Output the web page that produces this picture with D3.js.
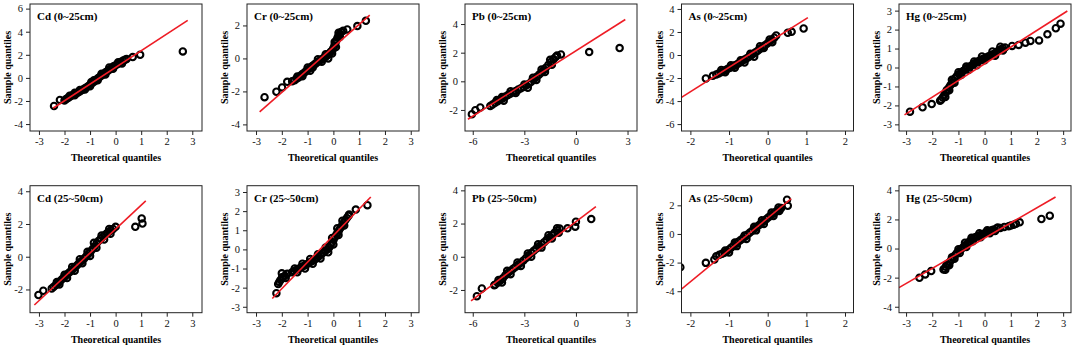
<!DOCTYPE html>
<html>
<head>
<meta charset="utf-8">
<script src="https://cdn.jsdelivr.net/npm/d3@7"></script>
<style>
  body { margin: 0; background: #fff; }
  svg { display: block; }
  text { font-family: "Liberation Serif", "Times New Roman", serif; }
</style>
</head>
<body>
<script>
// titles of the ten panels (top row 0~25cm, bottom row 25~50cm)
var titles = ["Cd (0~25cm)", "Cr (0~25cm)", "Pb (0~25cm)", "As (0~25cm)", "Hg (0~25cm)",
              "Cd (25~50cm)", "Cr (25~50cm)", "Pb (25~50cm)", "As (25~50cm)", "Hg (25~50cm)"];

// [theoretical, sample] quantiles
var cdTop = [[-2.41,-2.43],[-2.18,-1.91],[-2.0,-1.95],[-1.95,-1.85],[-1.9,-1.78],[-1.85,-1.72],[-1.78,-1.62],[-1.72,-1.52],[-1.65,-1.45],[-1.58,-1.38],[-1.5,-1.3],[-1.42,-1.2],[-1.35,-1.1],[-1.28,-1.0],[-1.2,-0.9],[-1.12,-0.78],[-1.05,-0.68],[-0.98,-0.55],[-0.9,-0.42],[-0.82,-0.3],[-0.75,-0.15],[-0.68,0.0],[-0.6,0.12],[-0.52,0.25],[-0.45,0.38],[-0.38,0.5],[-0.3,0.62],[-0.22,0.75],[-0.15,0.88],[-0.08,1.0],[0.0,1.1],[0.08,1.2],[0.15,1.3],[0.22,1.4],[0.3,1.5],[0.37,1.58],[0.43,1.64],[0.67,1.8],[0.96,2.0],[2.63,2.29],
  [-1.8,-1.55],[-1.6,-1.5],[-1.4,-1.05],[-1.2,-1.0],[-1.0,-0.72],[-0.85,-0.2],[-0.7,-0.2],[-0.55,0.35],[-0.4,0.3],[-0.25,0.9],[-0.1,0.8],[0.1,1.35],[0.25,1.25],[-1.6,-1.28],[-0.95,-0.35]];
var crTop = [[-2.67,-2.35],[-2.21,-2.02],[-1.99,-1.76],[-1.79,-1.42],[-1.6,-1.38],[-1.5,-1.32],[-1.42,-1.22],[-1.35,-1.15],[-1.28,-1.05],[-1.2,-0.95],[-1.12,-0.86],[-1.05,-0.76],[-0.98,-0.66],[-0.9,-0.56],[-0.82,-0.46],[-0.75,-0.38],[-0.68,-0.3],[-0.6,-0.2],[-0.52,-0.12],[-0.45,-0.05],[-0.38,0.03],[-0.3,0.1],[-0.23,0.2],[-0.16,0.3],[-0.1,0.4],[-0.04,0.5],[0.0,0.62],[0.04,0.78],[0.08,0.95],[0.12,1.1],[0.16,1.25],[0.2,1.38],[0.25,1.5],[0.3,1.6],[0.38,1.68],[0.54,1.76],[0.93,1.96],[1.26,2.28],
  [-1.4,-1.1],[-1.2,-1.08],[-1.0,-0.55],[-0.8,-0.55],[-0.6,-0.05],[-0.45,-0.2],[-0.3,0.25],[-0.2,0.0],[-0.05,0.3],[0.05,1.0],[0.1,0.7],[0.2,1.55],[0.25,1.3],[-0.9,-0.75]];
var pbTop = [[-6.05,-2.3],[-5.85,-2.02],[-5.56,-1.83],[-4.98,-1.72],[-4.85,-1.62],[-4.7,-1.5],[-4.55,-1.4],[-4.4,-1.28],[-4.25,-1.18],[-4.1,-1.06],[-3.95,-0.95],[-3.82,-0.86],[-3.65,-0.76],[-3.5,-0.67],[-3.35,-0.58],[-3.2,-0.48],[-3.05,-0.4],[-2.9,-0.3],[-2.75,-0.18],[-2.6,-0.03],[-2.45,0.13],[-2.3,0.3],[-2.15,0.46],[-2.0,0.62],[-1.88,0.77],[-1.75,0.95],[-1.6,1.15],[-1.45,1.35],[-1.3,1.55],[-1.18,1.7],[-1.1,1.81],[-0.87,1.88],[0.77,2.04],[2.54,2.32],
  [-4.6,-1.3],[-4.2,-1.35],[-3.8,-0.7],[-3.5,-0.82],[-3.0,-0.22],[-2.8,-0.45],[-2.5,0.25],[-2.3,0.1],[-2.0,0.82],[-1.8,0.65],[-1.5,1.5],[-1.4,1.15],[-4.3,-1.1]];
var asTop = [[-1.6,-2.04],[-1.42,-1.81],[-1.33,-1.7],[-1.27,-1.6],[-1.21,-1.5],[-1.15,-1.4],[-1.09,-1.3],[-1.03,-1.2],[-0.97,-1.1],[-0.91,-1.0],[-0.85,-0.9],[-0.79,-0.8],[-0.73,-0.67],[-0.67,-0.55],[-0.61,-0.42],[-0.55,-0.3],[-0.49,-0.17],[-0.43,-0.04],[-0.37,0.1],[-0.31,0.25],[-0.25,0.4],[-0.19,0.55],[-0.13,0.7],[-0.07,0.85],[-0.01,1.0],[0.05,1.15],[0.11,1.32],[0.17,1.5],[0.22,1.7],[0.52,1.93],[0.62,2.01],[0.93,2.3],
  [-1.2,-1.3],[-1.1,-1.5],[-0.95,-0.9],[-0.85,-1.1],[-0.7,-0.45],[-0.6,-0.65],[-0.45,0.1],[-0.35,-0.15],[-0.2,0.75],[-0.1,0.6],[0.05,1.35],[0.12,1.1]];
var hgTop = [[-2.85,-2.33],[-2.37,-2.1],[-2.02,-1.93],[-1.7,-1.75],[-1.66,-1.7],[-1.6,-1.58],[-1.54,-1.45],[-1.48,-1.32],[-1.42,-1.18],[-1.36,-1.05],[-1.3,-0.92],[-1.24,-0.8],[-1.18,-0.68],[-1.12,-0.56],[-1.06,-0.45],[-0.98,-0.35],[-0.9,-0.27],[-0.82,-0.18],[-0.74,-0.1],[-0.66,-0.03],[-0.58,0.04],[-0.5,0.11],[-0.42,0.18],[-0.34,0.25],[-0.26,0.31],[-0.18,0.37],[-0.1,0.43],[-0.02,0.48],[0.06,0.53],[0.14,0.58],[0.22,0.63],[0.3,0.68],[0.38,0.74],[0.46,0.82],[0.54,0.9],[0.62,0.96],[0.7,1.02],[0.78,1.06],[1.05,1.14],[1.3,1.19],[1.56,1.31],[1.75,1.4],[2.08,1.43],[2.4,1.75],[2.72,2.07],[2.9,2.31],
  [-1.5,-1.55],[-1.45,-1.2],[-1.35,-1.2],[-1.25,-0.65],[-1.15,-0.8],[-1.0,-0.25],[-0.9,-0.4],[-0.7,0.05],[-0.6,-0.12],[-0.4,0.32],[-0.3,0.12],[-0.1,0.58],[0.0,0.38],[0.3,0.85],[0.4,0.62],[0.6,1.1],[0.7,0.9]];
var cdBot = [[-3.02,-2.34],[-2.83,-2.08],[-2.5,-1.94],[-2.42,-1.84],[-2.34,-1.73],[-2.26,-1.62],[-2.18,-1.5],[-2.1,-1.38],[-2.02,-1.27],[-1.94,-1.15],[-1.86,-1.03],[-1.78,-0.92],[-1.7,-0.8],[-1.62,-0.68],[-1.54,-0.56],[-1.46,-0.44],[-1.38,-0.32],[-1.3,-0.21],[-1.22,-0.1],[-1.14,0.04],[-1.06,0.18],[-0.98,0.32],[-0.9,0.47],[-0.82,0.62],[-0.74,0.82],[-0.66,0.98],[-0.58,1.1],[-0.5,1.22],[-0.42,1.33],[-0.34,1.44],[-0.26,1.53],[-0.18,1.62],[-0.1,1.7],[0.0,1.83],[0.77,1.83],[1.02,2.34],[1.05,2.03],
  [-2.3,-1.55],[-2.2,-1.7],[-2.0,-1.1],[-1.9,-1.3],[-1.7,-0.62],[-1.6,-0.85],[-1.4,-0.15],[-1.3,-0.4],[-1.1,0.3],[-1.0,0.05],[-0.85,0.85],[-0.75,0.55],[-0.55,1.3],[-0.45,1.05],[-0.25,1.7],[-0.2,1.4]];
var crBot = [[-2.21,-2.29],[-2.14,-1.81],[-2.1,-1.7],[-2.05,-1.6],[-1.99,-1.46],[-1.95,-1.45],[-1.88,-1.38],[-1.79,-1.28],[-1.6,-1.2],[-1.52,-1.14],[-1.44,-1.08],[-1.36,-1.02],[-1.28,-0.96],[-1.2,-0.9],[-1.12,-0.84],[-1.04,-0.78],[-0.96,-0.72],[-0.88,-0.65],[-0.8,-0.59],[-0.72,-0.53],[-0.64,-0.45],[-0.56,-0.36],[-0.48,-0.27],[-0.4,-0.18],[-0.32,-0.09],[-0.24,0.0],[-0.17,0.09],[-0.11,0.22],[-0.05,0.37],[0.01,0.52],[0.07,0.66],[0.12,0.78],[0.16,0.87],[0.22,1.0],[0.28,1.13],[0.34,1.26],[0.4,1.39],[0.46,1.52],[0.52,1.64],[0.58,1.75],[0.61,1.82],[0.87,2.08],[1.32,2.31],
  [-1.5,-1.0],[-1.4,-1.2],[-1.2,-0.75],[-1.1,-1.0],[-0.9,-0.5],[-0.8,-0.75],[-0.6,-0.25],[-0.5,-0.48],[-0.3,0.1],[-0.2,-0.15],[-0.05,0.6],[0.0,0.25],[0.15,1.1],[0.2,0.75],[0.35,1.5],[0.42,1.25],[-2.0,-1.25],[-1.85,-1.5]];
var pbBot = [[-5.76,-2.38],[-5.47,-1.91],[-4.75,-1.71],[-4.7,-1.68],[-4.55,-1.56],[-4.4,-1.44],[-4.25,-1.3],[-4.1,-1.12],[-3.95,-0.98],[-3.8,-0.85],[-3.65,-0.72],[-3.5,-0.6],[-3.35,-0.48],[-3.2,-0.36],[-3.05,-0.22],[-2.9,-0.08],[-2.75,0.08],[-2.6,0.22],[-2.45,0.36],[-2.3,0.5],[-2.15,0.62],[-2.0,0.74],[-1.85,0.88],[-1.7,1.02],[-1.55,1.16],[-1.4,1.3],[-1.25,1.44],[-1.1,1.58],[-0.95,1.7],[-0.49,1.71],[-0.04,1.81],[0.0,2.11],[0.89,2.27],
  [-4.5,-1.4],[-4.3,-1.55],[-4.0,-0.85],[-3.8,-1.05],[-3.4,-0.35],[-3.2,-0.55],[-2.8,0.2],[-2.6,0.0],[-2.2,0.75],[-2.0,0.55],[-1.6,1.3],[-1.4,1.1],[-1.1,1.72],[-1.0,1.45]];
var asBot = [[-2.26,-2.32],[-1.6,-2.02],[-1.38,-1.79],[-1.33,-1.56],[-1.25,-1.45],[-1.18,-1.38],[-1.12,-1.32],[-1.06,-1.2],[-1.0,-1.08],[-0.94,-0.95],[-0.88,-0.82],[-0.82,-0.68],[-0.76,-0.55],[-0.7,-0.42],[-0.64,-0.3],[-0.58,-0.17],[-0.52,-0.04],[-0.46,0.1],[-0.4,0.22],[-0.34,0.36],[-0.28,0.5],[-0.22,0.62],[-0.16,0.76],[-0.1,0.9],[-0.04,1.03],[0.02,1.16],[0.08,1.29],[0.14,1.42],[0.2,1.54],[0.26,1.66],[0.32,1.76],[0.35,1.81],[0.5,2.39],[0.52,1.97],
  [-1.1,-1.15],[-1.0,-1.3],[-0.85,-0.6],[-0.8,-0.85],[-0.6,-0.1],[-0.55,-0.35],[-0.35,0.5],[-0.3,0.25],[-0.15,0.95],[-0.1,0.7],[0.1,1.5],[0.15,1.25],[0.28,1.85],[0.3,1.6]];
var hgBot = [[-2.49,-2.01],[-2.27,-1.78],[-2.04,-1.55],[-1.57,-1.44],[-1.55,-1.4],[-1.48,-1.25],[-1.41,-1.1],[-1.34,-0.94],[-1.27,-0.78],[-1.2,-0.62],[-1.13,-0.46],[-1.06,-0.3],[-0.98,-0.17],[-0.9,-0.04],[-0.82,0.09],[-0.74,0.22],[-0.66,0.35],[-0.58,0.48],[-0.5,0.6],[-0.42,0.73],[-0.34,0.8],[-0.26,0.86],[-0.18,0.92],[-0.1,0.98],[-0.02,1.04],[0.06,1.1],[0.14,1.16],[0.22,1.22],[0.3,1.28],[0.34,1.3],[0.45,1.38],[0.6,1.42],[0.75,1.48],[0.92,1.53],[1.0,1.58],[1.11,1.64],[1.2,1.7],[1.34,1.8],[2.17,2.03],[2.49,2.26],
  [-1.5,-1.45],[-1.45,-1.1],[-1.35,-1.15],[-1.25,-0.6],[-1.15,-0.7],[-1.0,-0.05],[-0.95,-0.3],[-0.75,0.4],[-0.7,0.1],[-0.5,0.75],[-0.45,0.5],[-0.2,1.05],[-0.15,0.78],[0.1,1.25],[0.2,1.05],[0.5,1.45],[0.4,1.2]];
var points = [cdTop, crTop, pbTop, asTop, hgTop, cdBot, crBot, pbBot, asBot, hgBot];

// red reference line, start and end points
var refLines = [
  [[-2.45,-2.63],[2.82,4.98]], [[-2.86,-3.24],[1.41,2.62]], [[-6.28,-2.65],[2.87,4.32]],
  [[-2.23,-3.68],[1.04,3.25]], [[-3.06,-2.5],[3.16,2.98]],
  [[-3.18,-2.95],[1.18,3.41]], [[-2.37,-2.57],[1.45,2.74]], [[-6.1,-2.66],[1.16,3.02]],
  [[-2.26,-3.92],[0.61,2.46]], [[-3.27,-2.69],[2.71,3.54]]
];

// tick labels
var xTicks = [[-3,-2,-1,0,1,2,3], [-3,-2,-1,0,1,2,3], [-6,-3,0,3], [-2,-1,0,1,2], [-3,-2,-1,0,1,2,3],
              [-3,-2,-1,0,1,2,3], [-3,-2,-1,0,1,2,3], [-6,-3,0,3], [-2,-1,0,1,2], [-3,-2,-1,0,1,2,3]];
var yTicks = [[-4,-2,0,2,4,6], [-4,-2,0,2], [-2,0,2,4], [-6,-4,-2,0,2,4], [-3,-2,-1,0,1,2,3],
              [-2,0,2,4], [-3,-2,-1,0,1,2,3], [-2,0,2,4], [-4,-2,0,2], [-4,-2,0,2,4]];

// axis ranges of each panel
var xDomains = [[-3.35,3.38],[-3.35,3.32],[-6.45,3.55],[-2.23,2.22],[-3.27,3.3],
                [-3.35,3.38],[-3.35,3.32],[-6.45,3.55],[-2.23,2.22],[-3.27,3.3]];
var yDomains = [[-4.6,6.4],[-4.4,3.3],[-3.47,5.4],[-6.6,4.43],[-3.35,3.35],
                [-3.42,4.34],[-3.31,3.33],[-3.37,4.28],[-5.5,3.37],[-4.41,4.32]];

// layout
var W = 1073, H = 346;
var lefts = [30, 247, 465, 681.5, 899];
var tops = [4, 185.7];
var pw = 172, ph = 127;
var red = "#ee1c25";

var svg = d3.select("body").append("svg")
  .attr("width", W)
  .attr("height", H);

titles.forEach(function(title, i) {
  var col = i % 5, row = Math.floor(i / 5);
  var g = svg.append("g")
    .attr("transform", "translate(" + lefts[col] + "," + tops[row] + ")");

  var x = d3.scaleLinear().domain(xDomains[i]).range([0, pw]);
  var y = d3.scaleLinear().domain(yDomains[i]).range([ph, 0]);

  g.append("clipPath").attr("id", "clip" + i)
    .append("rect").attr("width", pw).attr("height", ph);

  var plot = g.append("g").attr("clip-path", "url(#clip" + i + ")");

  // points
  plot.selectAll("circle")
    .data(points[i])
    .enter()
    .append("circle")
    .attr("cx", function(d) { return x(d[0]); })
    .attr("cy", function(d) { return y(d[1]); })
    .attr("r", 3.2)
    .attr("fill", "none")
    .attr("stroke", "#000")
    .attr("stroke-width", 2.1);

  // reference line
  plot.append("path")
    .datum(refLines[i])
    .attr("fill", "none")
    .attr("stroke", red)
    .attr("stroke-width", 1.6)
    .attr("d", d3.line().x(function(d) { return x(d[0]); }).y(function(d) { return y(d[1]); }));

  // frame
  g.append("rect")
    .attr("width", pw).attr("height", ph)
    .attr("fill", "none")
    .attr("stroke", "#222")
    .attr("stroke-width", 1);

  // axes
  var xa = g.append("g")
    .attr("transform", "translate(0," + ph + ")")
    .call(d3.axisBottom(x).tickValues(xTicks[i]).tickSize(4).tickPadding(3).tickFormat(function(d) { return String(d); }));
  var ya = g.append("g")
    .call(d3.axisLeft(y).tickValues(yTicks[i]).tickSize(4).tickPadding(3).tickFormat(function(d) { return String(d); }));
  [xa, ya].forEach(function(a) {
    a.select(".domain").remove();
    a.selectAll("line").attr("stroke", "#222");
    a.selectAll("text")
      .attr("fill", "#111")
      .style("font-family", "'Liberation Serif', serif")
      .style("font-size", "10.5px");
  });

  // title
  g.append("text")
    .attr("x", 7)
    .attr("y", 16)
    .style("font-size", "11px")
    .style("font-weight", "bold")
    .attr("fill", "#000")
    .text(title);

  // axis names
  g.append("text")
    .attr("x", pw / 2)
    .attr("y", ph + 30)
    .attr("text-anchor", "middle")
    .style("font-size", "10px")
    .style("font-weight", "bold")
    .text("Theoretical quantiles");

  g.append("text")
    .attr("transform", "translate(-19," + (ph / 2) + ") rotate(-90)")
    .attr("text-anchor", "middle")
    .style("font-size", "10px")
    .style("font-weight", "bold")
    .text("Sample quantiles");
});
</script>
</body>
</html>
